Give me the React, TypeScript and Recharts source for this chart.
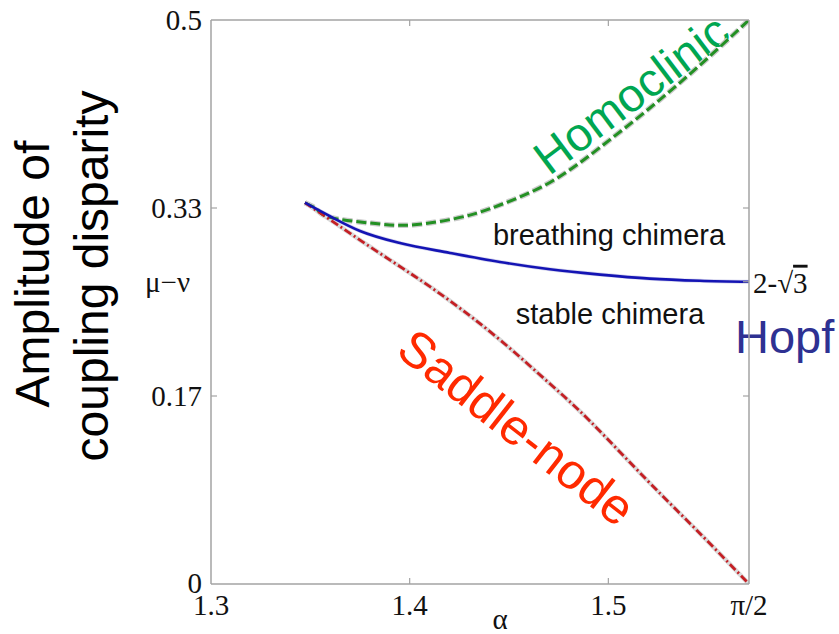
import React from "react";
import { LineChart, Line, XAxis, YAxis, Customized } from "recharts";

const HALF_PI = Math.PI / 2;
const ROOT = 2 - Math.sqrt(3);

// axis ticks
const xTicks = [1.3, 1.4, 1.5, HALF_PI];
const xTickLabels = ["1.3", "1.4", "1.5", "π/2"];
const yTicks = [0, 1 / 6, ROOT, 1 / 3, 0.5];
const yTickLabels = ["0", "0.17", "μ−ν", "0.33", "0.5"];
const rightTicks = [1 / 6, ROOT, 1 / 3];
const rightTickLabels = ["", "2-√3", ""];

// bifurcation curves (alpha, mu - nu)
const homoclinicAlpha = [1.3473, 1.3533, 1.3599, 1.38, 1.3966, 1.4137, 1.4303, 1.4454, 1.4706, 1.4958, 1.5209, 1.5461, 1.5708];
const homoclinicMu = [0.338, 0.332, 0.325, 0.32, 0.318, 0.321, 0.327, 0.336, 0.356, 0.387, 0.422, 0.46, 0.5];

const hopfAlpha = [1.3473, 1.3599, 1.375, 1.3956, 1.4203, 1.4454, 1.4706, 1.4958, 1.5209, 1.5461, 1.5708];
const hopfMu = [0.338, 0.326, 0.313, 0.302, 0.2935, 0.2855, 0.279, 0.2743, 0.2707, 0.2688, 0.2679];

const saddleAlpha = [1.3473, 1.3599, 1.38, 1.4002, 1.4203, 1.4454, 1.4706, 1.4907, 1.5194, 1.5446, 1.5708];
const saddleMu = [0.338, 0.323, 0.299, 0.2755, 0.251, 0.2165, 0.1775, 0.1445, 0.0922, 0.0475, 0];

const toRows = (xs: number[], ys: number[]) => xs.map((a, i) => ({ a, v: ys[i] }));
const homoclinic = toRows(homoclinicAlpha, homoclinicMu);
const hopf = toRows(hopfAlpha, hopfMu);
const saddle = toRows(saddleAlpha, saddleMu);

const FRAME = "#a3a3a3";
const SERIF = "'Liberation Serif', serif";
const SANS = "'Liberation Sans', Arial, sans-serif";

const LeftTick = (props: any) => {
  const { x, y, index, payload } = props;
  const label = yTickLabels[index];
  const isMu = label === "μ−ν";
  const inner = payload.value > 0 && payload.value < 0.5 && !isMu;
  return (
    <g>
      {inner && <line x1={x} y1={y} x2={x + 6} y2={y} stroke={FRAME} strokeWidth={1.2} />}
      <text x={isMu ? x - 21 : x - 9} y={payload.value === 0 ? y - 1 : y} textAnchor="end" dominantBaseline="central" fontFamily={SERIF} fontSize={29} fill="#111">
        {label}
      </text>
    </g>
  );
};

const BottomTick = (props: any) => {
  const { x, y, index } = props;
  const inner = index > 0 && index < xTicks.length - 1;
  return (
    <g>
      {inner && <line x1={x} y1={y} x2={x} y2={y - 6} stroke={FRAME} strokeWidth={1.2} />}
      <text x={x} y={y + 31} textAnchor="middle" fontFamily={SERIF} fontSize={29} fill="#111">
        {xTickLabels[index]}
      </text>
    </g>
  );
};

const TopTick = (props: any) => {
  const { x, y, index } = props;
  const inner = index > 0 && index < xTicks.length - 1;
  return inner ? <line x1={x} y1={y} x2={x} y2={y + 6} stroke={FRAME} strokeWidth={1.2} /> : <g />;
};

const RightTick = (props: any) => {
  const { x, y, index } = props;
  const label = rightTickLabels[index];
  return (
    <g>
      <line x1={x} y1={y} x2={x - 6} y2={y} stroke={FRAME} strokeWidth={1.2} />
      {label && (
        <text x={x + 4} y={y + 1} dominantBaseline="central" fontFamily={SERIF} fontSize={29} fill="#111">
          <tspan>2-√</tspan>
          <tspan textDecoration="overline">3</tspan>
        </text>
      )}
    </g>
  );
};

const Annotations = () => (
  <g>
    <text x={49} y={274} transform="rotate(-90 49 274)" textAnchor="middle" fontFamily={SANS} fontSize={48} fill="#000">
      Amplitude of
    </text>
    <text x={108} y={276} transform="rotate(-90 108 276)" textAnchor="middle" fontFamily={SANS} fontSize={48} fill="#000">
      coupling disparity
    </text>
    <text x={500} y={629} textAnchor="middle" fontFamily={SERIF} fontSize={29} fill="#111">
      α
    </text>
    <text x={609} y={245} textAnchor="middle" fontFamily={SANS} fontSize={29} fill="#111">
      breathing chimera
    </text>
    <text x={610} y={324} textAnchor="middle" fontFamily={SANS} fontSize={29} fill="#111">
      stable chimera
    </text>
    <text x={735} y={353} fontFamily={SANS} fontSize={47} fill="#2e3192">
      Hopf
    </text>
    <text x={641} y={107} transform="rotate(-37 641 107)" textAnchor="middle" fontFamily={SANS} fontSize={47} fill="#00a651">
      Homoclinic
    </text>
    <text x={506} y={441} transform="rotate(38 506 441)" textAnchor="middle" fontFamily={SANS} fontSize={50} fill="#ff2a00">
      Saddle-node
    </text>
  </g>
);

export default function App() {
  return (
    <div style={{ position: "absolute", left: 0, top: 0, background: "#fff" }}>
      <LineChart width={839} height={634} margin={{ top: 10, right: 20, bottom: 10, left: 151 }}>
        <XAxis
          xAxisId="b"
          dataKey="a"
          type="number"
          domain={[1.3, HALF_PI]}
          ticks={xTicks}
          allowDataOverflow
          height={40}
          axisLine={{ stroke: FRAME, strokeWidth: 1.5 }}
          tickLine={false}
          tickSize={0}
          tickMargin={0}
          tick={<BottomTick />}
        />
        <XAxis
          xAxisId="t"
          orientation="top"
          dataKey="a"
          type="number"
          domain={[1.3, HALF_PI]}
          ticks={xTicks}
          allowDataOverflow
          height={10}
          axisLine={{ stroke: FRAME, strokeWidth: 1.5 }}
          tickLine={false}
          tickSize={0}
          tickMargin={0}
          tick={<TopTick />}
        />
        <YAxis
          yAxisId="l"
          type="number"
          domain={[0, 0.5]}
          ticks={yTicks}
          allowDataOverflow
          width={60}
          axisLine={{ stroke: FRAME, strokeWidth: 1.5 }}
          tickLine={false}
          tickSize={0}
          tickMargin={0}
          tick={<LeftTick />}
        />
        <YAxis
          yAxisId="r"
          orientation="right"
          type="number"
          domain={[0, 0.5]}
          ticks={rightTicks}
          allowDataOverflow
          width={70}
          axisLine={{ stroke: FRAME, strokeWidth: 1.5 }}
          tickLine={false}
          tickSize={0}
          tickMargin={0}
          tick={<RightTick />}
        />

        {/* soft grey halos under the curves */}
        <Line xAxisId="b" yAxisId="l" data={homoclinic} dataKey="v" type="natural" stroke="#cacaca" strokeWidth={5.5} strokeDasharray="10 4" dot={false} activeDot={false} isAnimationActive={false} />
        <Line xAxisId="b" yAxisId="l" data={saddle} dataKey="v" type="natural" stroke="#dadada" strokeWidth={4.5} dot={false} activeDot={false} isAnimationActive={false} />
        <Line xAxisId="b" yAxisId="l" data={hopf} dataKey="v" type="monotone" stroke="#d8d8ee" strokeWidth={4} dot={false} activeDot={false} isAnimationActive={false} />

        <Line xAxisId="b" yAxisId="l" data={homoclinic} dataKey="v" type="natural" stroke="#239023" strokeWidth={3} strokeDasharray="10 4" dot={false} activeDot={false} isAnimationActive={false} />
        <Line xAxisId="b" yAxisId="l" data={saddle} dataKey="v" type="natural" stroke="#c41f24" strokeWidth={2.8} strokeDasharray="8 3 2 3" dot={false} activeDot={false} isAnimationActive={false} />
        <Line xAxisId="b" yAxisId="l" data={hopf} dataKey="v" type="monotone" stroke="#1414b4" strokeWidth={2.6} dot={false} activeDot={false} isAnimationActive={false} />

        <Customized component={Annotations} />
      </LineChart>
    </div>
  );
}
